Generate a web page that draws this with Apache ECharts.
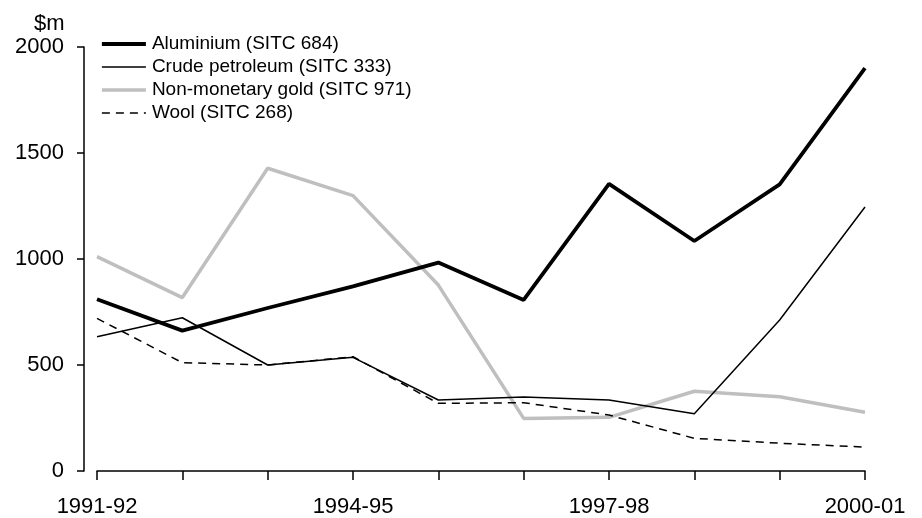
<!DOCTYPE html>
<html>
<head>
<meta charset="utf-8">
<script src="https://cdn.jsdelivr.net/npm/echarts@6/dist/echarts.min.js"></script>
<style>html,body{margin:0;padding:0;background:#fff;}#c{width:922px;height:518px;}</style>
</head>
<body>
<div id="c"></div>
<script>
const categories = ['1991-92','1992-93','1993-94','1994-95','1995-96','1996-97','1997-98','1998-99','1999-00','2000-01'];
const aluminium = [810, 662, 769, 871, 983, 807, 1354, 1085, 1352, 1900];
const crudePetroleum = [633, 723, 500, 536, 335, 349, 335, 270, 712, 1245];
const gold = [1011, 818, 1428, 1299, 877, 248, 253, 376, 350, 277];
const wool = [720, 511, 500, 539, 319, 322, 264, 154, 131, 113];
const seriesNames = ['Aluminium (SITC 684)','Crude petroleum (SITC 333)','Non-monetary gold (SITC 971)','Wool (SITC 268)'];

const FONT = '"Liberation Sans", Arial, sans-serif';
const styles = [
  {color: '#000', width: 3.8, type: 'solid'},
  {color: '#000', width: 1.5, type: 'solid'},
  {color: '#bfbfbf', width: 3.5, type: 'solid'},
  {color: '#000', width: 1.5, type: [8, 6]}
];
const chart = echarts.init(document.getElementById('c'), null, {renderer:'canvas'});
chart.setOption({
  animation: false,
  backgroundColor: '#fff',
  textStyle: {fontFamily: FONT, color: '#000'},
  title: {text: '$m', left: 29, top: 8, textStyle: {fontFamily: FONT, fontSize: 22, fontWeight: 'normal', color: '#000'}},
  legend: {
    data: seriesNames.map((n, i) => ({name: n, lineStyle: styles[i]})),
    orient: 'vertical',
    left: 95, top: 29,
    itemWidth: 44, itemHeight: 14, itemGap: 3,
    itemStyle: {opacity: 0},
    textStyle: {fontFamily: FONT, fontSize: 19, color: '#000', lineHeight: 20, padding: [0,0,0,1]}
  },
  grid: {left: 97, right: 57, top: 47, bottom: 47, containLabel: false},
  xAxis: {
    type: 'category', data: categories, boundaryGap: false, offset: 12,
    axisLine: {lineStyle: {color: '#000', width: 1.5}},
    axisTick: {interval: 0, length: 9, lineStyle: {color: '#000', width: 1.5}},
    axisLabel: {interval: 2, margin: 13, fontSize: 22, color: '#000', fontFamily: FONT},
    splitLine: {show: false}
  },
  yAxis: {
    type: 'value', min: 0, max: 2000, interval: 500, offset: 13,
    axisLine: {show: true, lineStyle: {color: '#000', width: 1.5}},
    axisTick: {show: true, length: 7, lineStyle: {color: '#000', width: 1.5}},
    axisLabel: {margin: 20, fontSize: 22, color: '#000', fontFamily: FONT, formatter: function (v) { return String(v); }},
    splitLine: {show: false}
  },
  series: [
    {name: seriesNames[2], type: 'line', data: gold, symbol: 'none', z: 1,
     lineStyle: styles[2], itemStyle: {color: styles[2].color}},
    {name: seriesNames[3], type: 'line', data: wool, symbol: 'none', z: 2,
     lineStyle: styles[3], itemStyle: {color: styles[3].color}},
    {name: seriesNames[1], type: 'line', data: crudePetroleum, symbol: 'none', z: 3,
     lineStyle: styles[1], itemStyle: {color: styles[1].color}},
    {name: seriesNames[0], type: 'line', data: aluminium, symbol: 'none', z: 4,
     lineStyle: styles[0], itemStyle: {color: styles[0].color}}
  ]
});
</script>
</body>
</html>
